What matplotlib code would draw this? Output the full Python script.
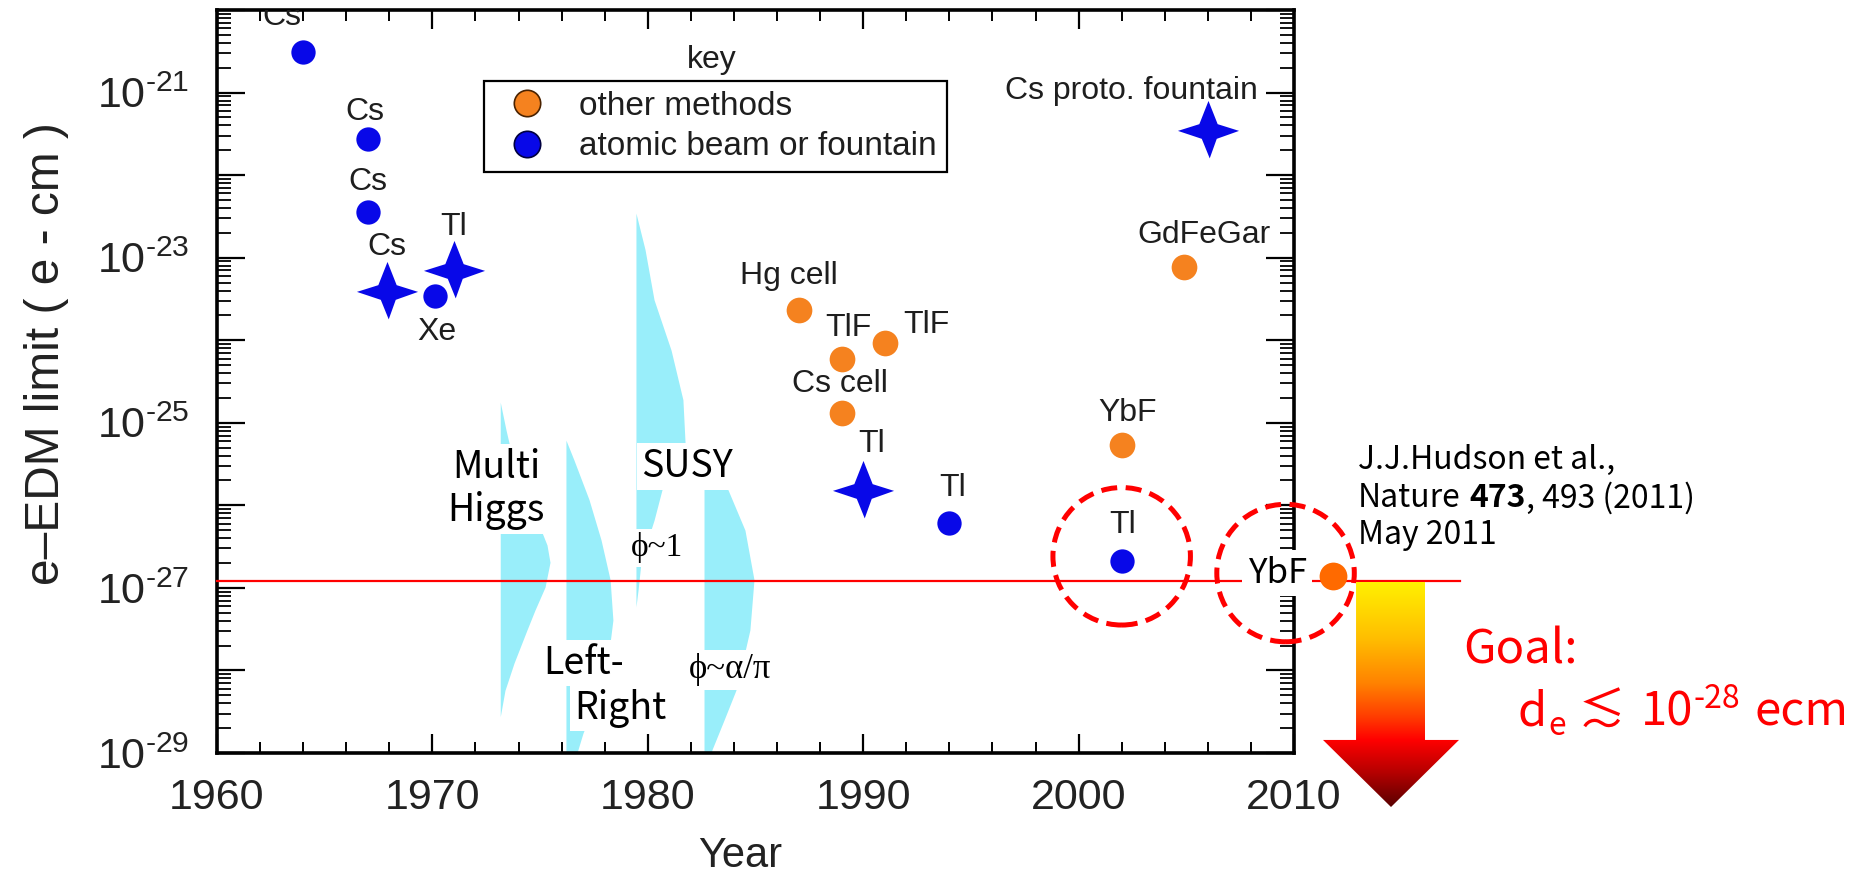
import numpy as np
import matplotlib
matplotlib.use("Agg")
import matplotlib.pyplot as plt
import matplotlib.transforms as mtransforms
from matplotlib.lines import Line2D
from matplotlib.path import Path
from matplotlib.patches import Circle, Polygon
from matplotlib.colors import LinearSegmentedColormap
from matplotlib.ticker import MultipleLocator, LogLocator, NullFormatter

plt.rcParams['font.family'] = ['Liberation Sans', 'DejaVu Sans']
plt.rcParams['mathtext.fallback'] = 'stix'

# ---------------- data ----------------
beam_years = [1964.0, 1967.0, 1967.0, 1970.1, 1994.0, 2002.0]
beam_values = [3.1e-21, 2.7e-22, 3.6e-23, 3.4e-24, 6.1e-27, 2.1e-27]
beam_labels = ['Cs', 'Cs', 'Cs', 'Xe', 'Tl', 'Tl']

star_years = [1967.9, 1971.0, 1990.0, 2006.0]
star_values = [3.8e-24, 6.8e-24, 1.5e-26, 3.4e-22]
star_labels = ['Cs', 'Tl', 'Tl', 'Cs proto. fountain']

other_years = [1987.0, 1989.0, 1991.0, 1989.0, 2002.0, 2004.9]
other_values = [2.3e-24, 6.0e-25, 9.3e-25, 1.3e-25, 5.4e-26, 7.8e-24]
other_labels = ['Hg cell', 'TlF', 'TlF', 'Cs cell', 'YbF', 'GdFeGar']

new_year = 2011.8
new_value = 1.4e-27
new_label = 'YbF'
goal_line_value = 1.22e-27

# theory bands: vertical left edge (year), outline in log10(d) with right-edge year
multi_left = 1973.15
multi_logd = [-24.75, -25.09, -25.45, -25.81, -26.18, -26.48, -26.69, -26.99, -27.27, -27.51, -27.91, -28.24, -28.56]
multi_right = [1973.15, 1973.42, 1973.74, 1974.21, 1974.86, 1975.32, 1975.46, 1975.23, 1974.76, 1974.39, 1973.79, 1973.37, 1973.15]

lr_left = 1976.2
lr_logd = [-25.21, -25.45, -25.93, -26.42, -26.90, -27.39, -27.87, -28.36, -28.76, -29.0, -29.27]
lr_right = [1976.2, 1976.57, 1977.27, 1977.83, 1978.25, 1978.38, 1978.15, 1977.60, 1976.99, 1976.71, 1976.39]

susy_left = 1979.45
susy_logd = [-22.46, -22.90, -23.51, -24.12, -24.72, -25.24, -25.57, -25.81, -26.18, -26.48, -26.70, -27.02, -27.23]
susy_right = [1979.45, 1979.87, 1980.29, 1981.08, 1981.63, 1981.73, 1981.31, 1980.66, 1980.29, 1979.92, 1979.68, 1979.55, 1979.45]

alpha_left = 1982.61
alpha_logd = [-25.39, -25.57, -25.81, -26.30, -26.90, -27.51, -27.93, -28.24, -28.60, -28.96, -29.27]
alpha_right = [1982.61, 1982.98, 1983.72, 1984.51, 1984.93, 1984.74, 1984.37, 1984.09, 1983.54, 1982.98, 1982.66]

theory_texts = ['Multi\nHiggs', 'SUSY', 'Left-', 'Right']
theory_x = [1972.95, 1981.82, 1977.04, 1978.71]
theory_logd = [-25.80, -25.53, -27.91, -28.455]
phase_texts = ['\u03d5~1', '\u03d5~\u03b1/\u03c0']
phase_x = [1980.43, 1983.82]
phase_logd = [-26.515, -27.994]

year_ticks = [1960, 1970, 1980, 1990, 2000, 2010]
year_tick_labels = ['1960', '1970', '1980', '1990', '2000', '2010']
decade_exponents = list(range(-29, -19))
labelled_exponents = [-29, -27, -25, -23, -21]

legend_labels = ['other methods', 'atomic beam or fountain']
citation_lines = ['J.J.Hudson et al.,', 'Nature', '473', ', 493 (2011)', 'May 2011']
goal_title = 'Goal:'
goal_parts = ['d', 'e', '\u2272', '10', '-28', 'ecm']

# ---------------- styles / layout ----------------
BLUE = '#0808E8'
ORANGE = '#F5821F'
NEW_ORANGE = '#FF6A00'
CYAN = '#99EEFA'
TXT = '#1e1e1e'
JP = ['Noto Sans CJK JP', 'DejaVu Sans']
SERIF = ['Liberation Serif', 'DejaVu Serif']

beam_offsets = [(-15, 25), (-2, 20), (0, 21.5), (2, -26), (2, 25), (1, 26)]
star_offsets = [(0, 33), (0, 32), (6, 34), (-55, 29)]
other_offsets = [(-7, 25), (5, 22), (30, 13), (-1, 21), (4, 23), (14, 23)]

star_path = Path([(0, 1.0), (0.3, 0.24), (1.0, 0.02), (0.27, -0.24), (0.04, -0.88),
                  (-0.22, -0.24), (-1.0, 0.02), (-0.3, 0.24), (0, 1.0)],
                 [Path.MOVETO] + [Path.LINETO] * 7 + [Path.CLOSEPOLY])

fig = plt.figure(figsize=(18.64, 8.85), dpi=100)
ax = fig.add_axes([217 / 1864, 132 / 885, 1077 / 1864, 743 / 885])
ax.set_yscale('log')

# theory bands
for left, logd, right in [(multi_left, multi_logd, multi_right), (lr_left, lr_logd, lr_right),
                          (susy_left, susy_logd, susy_right), (alpha_left, alpha_logd, alpha_right)]:
    ax.fill_betweenx(10.0 ** np.array(logd), left, right, color=CYAN, lw=0, zorder=1)

box = dict(boxstyle='square,pad=0.1', fc='white', ec='none')
for t, x, ld in zip(theory_texts, theory_x, theory_logd):
    ax.text(x, 10.0 ** ld, t, family=JP, fontsize=27, ha='center', va='center',
            color='black', bbox=box, zorder=2, linespacing=1.15)
for t, x, ld, fs in zip(phase_texts, phase_x, phase_logd, [24, 25]):
    ax.text(x, 10.0 ** ld, t, family=SERIF, fontsize=fs, ha='center', va='center',
            color='black', bbox=box, zorder=2)

# goal line
ax.plot([1960, 2017.7], [goal_line_value, goal_line_value], color='red', lw=1.6,
        zorder=3, clip_on=False)

# points
ax.plot(beam_years, beam_values, ls='none', marker='o', ms=17.5, mfc=BLUE, mew=0, zorder=4)
ax.plot(star_years, star_values, ls='none', marker=star_path, ms=44, mfc=BLUE, mew=0, zorder=4)
ax.plot(other_years, other_values, ls='none', marker='o', ms=18.5, mfc=ORANGE, mew=0, zorder=4)

for xs, ys, labs, offs in [(beam_years, beam_values, beam_labels, beam_offsets),
                           (star_years, star_values, star_labels, star_offsets),
                           (other_years, other_values, other_labels, other_offsets)]:
    for x, y, lab, off in zip(xs, ys, labs, offs):
        ax.annotate(lab, (x, y), xytext=off, textcoords='offset points', ha='center',
                    va='center', fontsize=23, color=TXT, zorder=5, clip_on=True)

# new result (outside the frame)
ax.annotate(new_label, (new_year, new_value), xytext=(-40, 2), textcoords='offset points',
            ha='center', va='center', fontsize=25, family=JP, color='black',
            bbox=dict(boxstyle='square,pad=0.15', fc='white', ec='none'),
            zorder=3.5, annotation_clip=False)
ax.plot([new_year], [new_value], ls='none', marker='o', ms=20, mfc=NEW_ORANGE, mew=0,
        zorder=5, clip_on=False)

# dashed circles (pixel-sized) around the two best limits
for (x, y), (dx, dy) in [((beam_years[5], beam_values[5]), (0, 3.6)),
                         ((new_year, new_value), (-34, 2))]:
    tr = fig.dpi_scale_trans + mtransforms.ScaledTranslation(x, y, ax.transData)
    c = Circle((dx / 72, dy / 72), 49.5 / 72, transform=tr, fill=False, ec='red', lw=3.6,
               ls=(0, (3.2, 1.7)), clip_on=False, zorder=6)
    ax.add_artist(c)

# axes
ax.set_xlim(1960, 2010)
ax.set_ylim(1e-29, 1e-20)
ax.set_xticks(year_ticks, labels=year_tick_labels)
ax.xaxis.set_minor_locator(MultipleLocator(2))
ylabels = [('$\\mathregular{10^{\u2010' + str(-e) + '}}$') if e in labelled_exponents else ''
           for e in decade_exponents]
ax.set_yticks([10.0 ** e for e in decade_exponents], labels=ylabels)
ax.yaxis.set_minor_locator(LogLocator(base=10, subs=np.arange(2, 10), numticks=100))
ax.yaxis.set_minor_formatter(NullFormatter())
ax.tick_params(which='both', direction='in', top=True, right=True, colors='black',
               labelcolor='#222222')
ax.tick_params(axis='x', which='major', length=14, width=1.6, pad=18, labelsize=31)
ax.tick_params(axis='x', which='minor', length=8, width=1.4)
ax.tick_params(axis='y', which='major', length=20, width=1.6, pad=20, labelsize=31)
ax.tick_params(axis='y', which='minor', length=10, width=1.3)
for s in ax.spines.values():
    s.set_linewidth(2.6)

ax.set_ylabel('e\u2013EDM limit ( e - cm )', fontsize=34.5, color='#222222')
ax.yaxis.set_label_coords(-0.137, 0.537)
ax.set_xlabel('Year', fontsize=30, color='#222222', va='top')
ax.xaxis.set_label_coords(0.4856, -0.112)

# legend
handles = [Line2D([], [], ls='none', marker='o', ms=19, mfc=ORANGE, mec='#4a2200', mew=1.2),
           Line2D([], [], ls='none', marker='o', ms=19, mfc=BLUE, mec='#000040', mew=1.2)]
leg = ax.legend(handles, legend_labels, loc='upper left', bbox_to_anchor=(0.2479, 0.9044),
                frameon=True, fancybox=False, edgecolor='black', framealpha=1, fontsize=24,
                borderpad=0.3, handlelength=2.0, handletextpad=0.55, labelspacing=0.28,
                borderaxespad=0)
leg.get_frame().set_linewidth(1.6)
for t in leg.get_texts():
    t.set_color(TXT)
ax.text(0.4596, 0.9327, 'key', transform=ax.transAxes, fontsize=23, ha='center',
        va='center', color=TXT)

# gradient arrow
ax2 = fig.add_axes([1323 / 1864, 78 / 885, 136 / 1864, 225 / 885])
ax2.set_xlim(0, 1)
ax2.set_ylim(0, 1)
ax2.axis('off')
cmap = LinearSegmentedColormap.from_list('goal', [
    (0.0, '#5a0000'), (0.15, '#b40000'), (0.298, '#ff0000'), (0.4, '#ff3c00'),
    (0.55, '#ff8200'), (0.75, '#ffbe00'), (1.0, '#fff000')])
grad = np.linspace(0, 1, 256).reshape(-1, 1)
arrow = Polygon([(0.243, 1.0), (0.75, 1.0), (0.75, 0.298), (1.0, 0.298), (0.5, 0.0),
                 (0.0, 0.298), (0.243, 0.298)], closed=True, fc='none', ec='none',
                transform=ax2.transData)
ax2.add_patch(arrow)
im = ax2.imshow(grad, cmap=cmap, origin='lower', extent=(0, 1, 0, 1), aspect='auto')
im.set_clip_path(arrow)

# citation
CFS = 23
fig.text(1358 / 1864, 1 - 460 / 885, citation_lines[0], family=JP, fontsize=CFS,
         va='center', ha='left', color='black')
t_nat = fig.text(1358 / 1864, 1 - 498 / 885, citation_lines[1], family=JP, fontsize=CFS,
                 va='center', ha='left', color='black')
t_vol = ax.annotate(citation_lines[2], xy=(1, 0.5), xycoords=t_nat, xytext=(6, 0),
                    textcoords='offset points', family=JP, fontsize=CFS, weight='bold',
                    va='center', ha='left', color='black', annotation_clip=False)
ax.annotate(citation_lines[3], xy=(1, 0.5), xycoords=t_vol, xytext=(0, 0),
            textcoords='offset points', family=JP, fontsize=CFS, va='center', ha='left',
            color='black', annotation_clip=False)
fig.text(1358 / 1864, 1 - 535 / 885, citation_lines[4], family=JP, fontsize=CFS,
         va='center', ha='left', color='black')

# goal text
fig.text(1463 / 1864, 1 - 650 / 885, goal_title, family=JP, fontsize=34, va='center',
         ha='left', color='red')
base_y = 1 - 725 / 885
prev = fig.text(1518 / 1864, base_y, goal_parts[0], family=JP, fontsize=34,
                va='baseline', ha='left', color='red')
# (gap before, vertical shift, size) for each following piece
piece_style = [(0.5, -7, 23), (9, 0, 34), (11, 0, 34), (0.5, 12.5, 23), (10, 0, 34)]
for part, (gap, shift, fs) in zip(goal_parts[1:], piece_style):
    prev = ax.annotate(part, xy=(1, base_y), xycoords=(prev, 'figure fraction'),
                       xytext=(gap, shift), textcoords='offset points', family=JP,
                       fontsize=fs, va='baseline', ha='left', color='red',
                       annotation_clip=False)

fig.savefig('out.png', dpi=100, facecolor='white')
